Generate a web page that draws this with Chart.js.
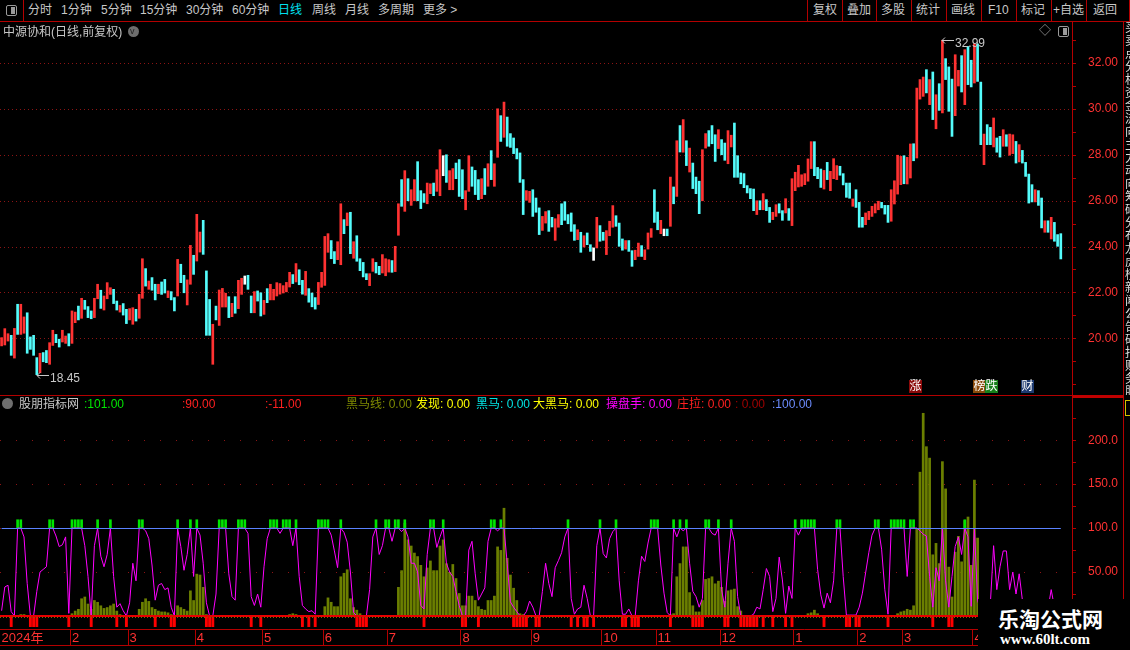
<!DOCTYPE html>
<html lang="zh-CN">
<head>
<meta charset="UTF-8">
<title>中源协和(日线,前复权)</title>
<script src="https://cdn.jsdelivr.net/npm/chart.js@4.4.1/dist/chart.umd.min.js"></script>
<style>
  body { margin: 0; background: #000; width: 1130px; height: 650px; overflow: hidden; position: relative;
         font-family: "Liberation Sans", "Noto Sans CJK SC", sans-serif; font-size: 12px; color: #c8c8c8; }
  .t { position: absolute; white-space: nowrap; line-height: 14px; }
  .hl { position: absolute; height: 1px; background: #b30000; }
  .vl { position: absolute; width: 1px; background: #b30000; }
  canvas { position: absolute; left: 0; }
  .tag { position: absolute; top: 380px; width: 13px; height: 13px; line-height: 13px; font-size: 12px; color: #fff; text-align: center; }
  .chev { position: absolute; width: 11px; height: 11px; border-radius: 6px; background: #6e6e6e; }
</style>
</head>
<body>
<!-- toolbar -->
<div class="vl" style="left:23px;top:0;height:21px"></div>
<div style="position:absolute;left:6px;top:5px;width:9px;height:9px;border:1px solid #9a9a9a;border-radius:2px"></div>
<div style="position:absolute;left:11px;top:7px;width:4px;height:7px;background:#9a9a9a"></div>
<div class="t" style="left:28px;top:3px">分时</div>
<div class="t" style="left:61px;top:3px">1分钟</div>
<div class="t" style="left:101px;top:3px">5分钟</div>
<div class="t" style="left:140px;top:3px">15分钟</div>
<div class="t" style="left:186px;top:3px">30分钟</div>
<div class="t" style="left:232px;top:3px">60分钟</div>
<div class="t" style="left:278px;top:3px;color:#00e0f0">日线</div>
<div class="t" style="left:312px;top:3px">周线</div>
<div class="t" style="left:345px;top:3px">月线</div>
<div class="t" style="left:378px;top:3px">多周期</div>
<div class="t" style="left:423px;top:3px">更多 &gt;</div>
<div class="t" style="left:813px;top:3px">复权</div>
<div class="t" style="left:847px;top:3px">叠加</div>
<div class="t" style="left:881px;top:3px">多股</div>
<div class="t" style="left:916px;top:3px">统计</div>
<div class="t" style="left:951px;top:3px">画线</div>
<div class="t" style="left:988px;top:3px">F10</div>
<div class="t" style="left:1021px;top:3px">标记</div>
<div class="t" style="left:1053px;top:3px">+自选</div>
<div class="t" style="left:1093px;top:3px">返回</div>
<div class="vl" style="left:807px;top:0;height:21px"></div>
<div class="vl" style="left:842px;top:0;height:21px"></div>
<div class="vl" style="left:876px;top:0;height:21px"></div>
<div class="vl" style="left:911px;top:0;height:21px"></div>
<div class="vl" style="left:946px;top:0;height:21px"></div>
<div class="vl" style="left:981px;top:0;height:21px"></div>
<div class="vl" style="left:1016px;top:0;height:21px"></div>
<div class="vl" style="left:1051px;top:0;height:21px"></div>
<div class="vl" style="left:1086px;top:0;height:21px"></div>
<div class="vl" style="left:1129px;top:0;height:21px"></div>
<div class="hl" style="left:0;top:21px;width:1130px"></div>

<canvas id="priceCv" width="1130" height="373" style="top:22px"></canvas>
<canvas id="indCv" width="1130" height="250" style="top:396px"></canvas>

<!-- title row -->
<div class="t" style="left:3px;top:25px">中源协和(日线,前复权)</div>
<div class="chev" style="left:128px;top:26px"></div>
<div class="t" style="left:130px;top:24px;font-size:9px;color:#222">v</div>
<div class="t" style="left:1039px;top:24px;color:#9a9a9a">◇</div>
<div style="position:absolute;left:1058px;top:26px;width:9px;height:9px;border:1px solid #9a9a9a;border-radius:2px"></div>
<div style="position:absolute;left:1063px;top:28px;width:4px;height:7px;background:#9a9a9a"></div>

<div class="tag" style="left:909px;background:#8c0a0a">涨</div>
<div class="tag" style="left:973px;background:#8a4a0a">榜</div>
<div class="tag" style="left:985px;background:#17801a">跌</div>
<div class="tag" style="left:1021px;background:#1d3a70">财</div>

<!-- frames -->
<div class="vl" style="left:1072px;top:21px;height:580px"></div>
<div class="vl" style="left:1123px;top:21px;height:629px"></div>
<div class="hl" style="left:0;top:395px;width:1072px"></div>
<div class="hl" style="left:1072px;top:395px;width:52px;height:3px;background:#c00000"></div>
<div class="hl" style="left:0;top:645px;width:978px"></div>
<div style="position:absolute;left:1125px;top:22px;width:5px;height:373px;overflow:hidden;color:#ddd;font-size:12px;line-height:13px">买<br>卖<br>点<br>分<br>析<br>资<br>金<br>流<br>向<br>主<br>力<br>动<br>向<br>筹<br>码<br>分<br>布<br>龙<br>虎<br>榜<br>新<br>闻<br>公<br>告<br>研<br>报<br>财<br>务<br>股<br>东<br>分</div>
<div style="position:absolute;left:1125px;top:400px;width:5px;height:14px;border:1px solid #d8c000;border-right:none"></div>

<!-- indicator legend -->
<div class="chev" style="left:2px;top:398px"></div>
<div class="t" style="left:19px;top:397px">股朋指标网</div>
<div class="t" style="left:84px;top:397px;color:#00e600">:101.00</div>
<div class="t" style="left:182px;top:397px;color:#ff2020">:90.00</div>
<div class="t" style="left:265px;top:397px;color:#ff2020">:-11.00</div>
<div class="t" style="left:346px;top:397px;color:#7f8a00">黑马线: 0.00</div>
<div class="t" style="left:416px;top:397px;color:#ffff00">发现: 0.00</div>
<div class="t" style="left:476px;top:397px;color:#00e5e5">黑马: 0.00</div>
<div class="t" style="left:533px;top:397px;color:#ffff00">大黑马: 0.00</div>
<div class="t" style="left:606px;top:397px;color:#ff00ff">操盘手: 0.00</div>
<div class="t" style="left:677px;top:397px;color:#ff2020">庄拉: 0.00</div>
<div class="t" style="left:735px;top:397px;color:#a00000">: 0.00</div>
<div class="t" style="left:772px;top:397px;color:#6d8dff">:100.00</div>

<!-- watermark -->
<div style="position:absolute;left:978px;top:599px;width:152px;height:51px;background:#000"></div>
<div class="t" style="left:998px;top:606px;line-height:24px;font-size:21px;font-weight:bold;color:#fff;font-family:'Noto Sans CJK SC',sans-serif">乐淘公式网</div>
<div class="t" style="left:1000px;top:631px;line-height:16px;font-size:15px;font-weight:bold;color:#fff;font-family:'Liberation Serif',serif">www.60lt.com</div>

<script>
// ---- price candles (each day: high, low, colour r=up c=down w=flat) ----
const candleHigh = [
  20.06,20.45,20.23,20.16,20.46,21.51,21.51,20.96,21.14,20.09,
  20.16,19.19,19.38,19.41,19.50,19.84,20.38,20.20,19.99,20.38,
  20.13,20.23,21.22,21.17,21.43,21.77,21.68,21.41,21.22,21.77,
  22.38,22.12,21.87,22.45,22.23,22.16,21.65,21.46,21.54,21.29,
  21.32,21.36,21.29,21.94,23.49,23.06,22.52,22.67,22.38,22.38,
  22.48,22.59,22.09,22.06,21.80,23.46,23.25,22.77,22.57,24.07,
  23.64,25.42,24.65,25.16,22.96,21.72,20.64,21.43,22.13,22.20,
  21.99,21.84,21.55,21.84,22.55,22.64,22.74,22.77,21.87,22.06,
  22.09,22.01,21.68,22.19,22.38,22.16,22.45,22.41,22.32,22.46,
  22.90,22.80,23.28,23.01,22.55,22.94,22.19,22.00,21.80,22.46,
  22.90,24.46,24.58,24.28,23.80,24.23,25.88,25.19,25.48,25.51,
  24.23,24.49,23.49,23.33,22.84,22.84,23.49,23.33,23.16,23.67,
  23.49,23.45,23.41,24.03,25.88,26.93,27.32,26.97,26.49,26.93,
  27.71,26.45,26.32,26.78,26.75,26.78,27.36,28.23,27.97,28.01,
  27.32,27.41,27.65,27.80,27.36,26.45,27.97,27.48,27.33,26.93,
  26.97,27.41,27.62,28.19,27.62,30.01,29.71,30.30,29.65,28.93,
  28.74,28.28,28.09,26.93,26.45,26.42,26.49,26.13,25.70,25.33,
  25.54,25.58,25.29,25.23,25.41,25.88,25.97,25.41,25.48,24.97,
  24.75,24.64,24.49,24.61,24.10,23.96,25.29,24.93,24.64,24.71,
  25.12,25.80,25.36,25.04,24.35,24.28,24.28,23.84,23.86,24.17,
  24.06,23.88,24.61,24.80,26.49,25.52,25.16,24.78,24.78,27.04,
  26.61,28.62,29.28,29.54,28.62,28.30,27.65,27.04,26.86,28.23,
  28.93,29.06,29.28,28.88,29.10,28.67,28.52,29.06,28.86,29.39,
  27.97,27.22,27.19,26.67,26.54,26.52,26.01,26.01,26.32,26.06,
  25.72,25.51,25.84,25.88,25.58,26.10,25.67,26.97,27.25,27.55,
  27.14,27.19,27.83,28.58,28.58,27.46,27.39,27.33,27.68,27.29,
  27.84,27.54,27.51,27.19,26.78,26.78,26.09,26.49,25.94,25.29,
  25.48,25.55,25.77,25.88,25.99,25.94,25.81,25.81,26.49,26.88,
  27.99,27.94,27.97,27.90,28.48,28.49,30.91,31.28,31.39,31.71,
  31.28,31.61,30.62,31.10,32.99,32.19,31.83,31.30,32.36,31.68,
  32.32,32.58,32.72,32.12,32.84,32.83,31.17,28.91,29.32,29.20,
  29.61,28.74,28.81,29.10,28.88,28.91,28.88,28.59,28.45,28.20,
  27.68,27.17,26.71,26.49,26.45,26.13,25.14,25.14,25.29,25.07,
  24.54,24.58
];
const candleLow = [
  19.70,19.74,19.91,19.29,19.17,20.20,20.20,20.25,19.38,19.55,
  19.29,18.45,18.53,19.01,18.97,18.90,19.72,19.84,19.65,19.87,
  19.81,19.70,19.81,20.71,20.83,20.90,21.29,20.93,20.88,20.93,
  21.75,21.33,21.26,21.75,21.94,21.54,21.26,21.17,21.04,20.67,
  20.83,20.64,20.78,20.90,21.77,22.30,22.16,22.12,21.70,21.97,
  21.94,22.00,21.80,21.70,21.22,21.87,22.45,22.01,21.48,22.38,
  22.81,23.39,23.78,23.68,20.16,20.16,18.90,20.83,20.59,21.39,
  21.39,20.93,20.97,21.12,21.32,21.94,22.38,22.16,21.14,21.14,
  21.65,21.00,21.07,21.58,21.70,21.70,21.87,21.95,22.00,22.05,
  22.26,22.41,22.48,22.36,21.95,21.90,21.60,21.40,21.30,21.50,
  22.25,22.33,23.77,23.49,23.28,23.45,23.23,24.58,24.93,23.71,
  23.51,23.38,22.97,22.70,22.58,22.32,22.94,22.87,22.80,22.87,
  22.75,22.91,22.90,22.93,24.51,25.77,25.55,26.01,25.81,26.01,
  26.01,25.67,25.94,25.88,26.32,26.23,26.42,26.23,27.10,26.81,
  26.49,26.49,26.97,26.20,26.10,25.62,26.42,26.64,26.28,26.06,
  26.10,26.28,26.64,26.93,26.64,27.90,28.59,28.77,28.38,28.33,
  28.06,27.83,26.81,25.41,26.03,25.94,25.33,25.51,24.54,24.72,
  25.04,24.68,24.87,24.29,24.86,24.97,25.16,25.01,24.68,24.29,
  24.32,23.77,24.00,24.10,23.81,23.42,23.96,24.25,24.29,23.67,
  24.49,24.86,24.90,24.03,23.86,23.91,23.81,23.16,23.45,23.59,
  23.59,23.45,23.91,24.42,25.07,24.75,24.58,24.49,24.49,24.90,
  25.88,26.20,28.13,28.12,27.54,27.26,26.54,26.32,25.45,26.01,
  28.30,28.38,28.49,27.72,28.28,28.01,27.77,27.62,28.35,27.03,
  27.03,26.75,26.58,26.35,26.10,25.58,25.41,25.62,25.62,25.58,
  25.07,25.19,25.33,25.48,25.16,25.48,25.16,24.93,26.45,26.61,
  26.64,26.71,26.86,27.41,27.10,26.97,26.59,26.52,26.93,26.45,
  26.97,26.93,27.12,26.70,26.16,26.12,25.77,25.72,24.86,24.86,
  24.97,25.19,25.33,25.48,25.62,25.70,25.43,25.07,25.12,25.87,
  26.30,26.71,26.75,26.74,27.00,27.75,27.87,30.43,30.55,30.70,
  30.19,29.54,29.14,29.94,29.83,31.28,29.90,28.81,29.71,31.00,
  30.74,30.19,31.06,30.96,31.13,31.20,28.45,27.58,28.45,28.45,
  28.35,28.12,27.91,28.38,28.38,27.99,28.06,27.65,27.70,27.65,
  27.07,25.91,25.96,25.96,25.81,24.83,24.64,24.64,24.35,24.25,
  24.03,23.48
];
const candleDir = (
  'rrrcrcrrcc' + 'ccrccrrccr' + 'rcrrcrcccr' + 'rcrrrccrcc' + 'rrcrrcrccr' +
  'ccrccrccrr' + 'crrcccrcrr' + 'rcrcrrwccr' + 'ccrcrrrrrr' + 'rcrccrcccr' +
  'rrrccrrcrc' + 'rccccrrccr' + 'rrcrrcrcrr' + 'cccrrcrrwc' + 'rrcccrrccc' +
  'rcrcrrcrcc' + 'ccccrrcccr' + 'rccrrccccc' + 'rcrccwrccr' + 'rrcccrccrr' +
  'crrrccrwcr' + 'crcrcrcccr' + 'rcccrccrrc' + 'ccccccrcrc' + 'crrccrcrrr' +
  'rrrrcccrcr' + 'rrccccrccc' + 'rrrrrcccrr' + 'rrcrrcrrrc' + 'rcrcrcccrr' +
  'crccrccrcc' + 'rccrcrrcrc' + 'cccrccrcrc' + 'cc').split('');

// ---- x axis: first trading day of each month ----
const monthStart = [1, 23, 41, 62, 83, 102, 122, 145, 167, 189, 206, 226, 249, 269, 283, 305];
const monthName = ['2024年', '2', '3', '4', '5', '6', '7', '8', '9', '10', '11', '12', '1', '2', '3', '4'];
const slotCount = 335;

// ---- y axis ticks ----
const priceTicks = [18, 19, 20, 21, 22, 23, 24, 25, 26, 27, 28, 29, 30, 31, 32, 33];
const indTicks = [25, 50, 75, 100, 125, 150, 175, 200, 225];

// ---- indicator ----
const oscLine = [
  6,33,35,5,0,100,100,90,37,0,
  0,28,50,53,56,100,100,91,79,81,
  90,3,100,100,100,100,80,45,0,80,
  100,68,56,70,100,45,10,14,6,0,
  15,60,40,100,100,97,88,58,18,35,
  37,30,32,10,0,100,79,52,70,100,
  45,100,92,60,15,0,0,25,100,100,
  100,48,22,18,100,100,100,94,22,12,
  25,10,56,88,100,100,100,94,100,100,
  100,80,100,45,12,8,5,6,2,100,
  100,100,100,92,74,55,100,95,84,50,
  4,0,0,0,0,30,90,100,70,80,
  100,100,85,100,100,96,100,90,60,60,
  50,12,8,70,100,100,78,90,100,60,
  50,45,28,12,0,0,75,85,48,18,
  25,32,85,100,100,97,100,100,60,16,
  10,5,0,0,5,17,10,0,0,28,
  60,37,22,55,63,72,90,100,20,2,
  8,10,35,20,0,0,80,100,71,66,
  88,96,100,40,2,2,8,0,0,40,
  68,62,83,100,100,100,58,26,4,0,
  100,90,100,97,100,60,28,22,10,20,
  100,100,94,92,100,30,10,60,100,85,
  22,0,0,0,0,2,10,8,30,54,
  45,5,20,67,41,3,34,20,100,92,
  100,100,100,100,100,53,24,9,26,15,
  40,100,100,45,1,1,1,1,10,26,
  49,72,92,100,100,76,30,2,100,100,
  100,100,100,45,100,100,100,97,93,91,
  45,10,55,40,100,40,10,45,79,90,
  70,100,90,11,100,18,5,5,5,15,
  80,30,56,74,74,30,50,25,48,18,
  10,5,3,3,3,3,5,8,30,10,
  5,3
];
const horseBars = [
  0,0,0,0,0,0,2,2,1,0,
  0,0,0,0,0,0,0,0,0,0,
  0,0,3,6,8,20,22,14,8,18,
  16,12,9,10,12,14,6,2,1,0,
  0,0,0,8,16,20,17,10,8,6,
  5,5,4,2,0,12,10,8,6,29,
  18,48,47,33,2,0,0,0,0,0,
  0,0,0,0,0,0,0,0,0,0,
  0,0,0,0,0,0,0,0,0,0,
  2,3,2,0,0,0,0,0,0,0,
  0,11,21,16,11,11,45,49,53,20,
  10,7,3,0,0,0,0,0,0,0,
  0,0,0,0,33,52,106,87,80,72,
  68,58,45,55,63,52,52,80,87,60,
  50,59,43,26,12,12,23,23,18,11,
  8,7,18,18,23,79,75,123,66,47,
  32,18,3,2,0,0,0,0,0,0,
  0,0,0,0,0,0,0,0,0,0,
  0,0,0,0,0,0,0,0,0,0,
  0,0,0,0,0,0,0,0,0,0,
  0,0,0,0,0,0,0,0,0,2,
  3,45,60,79,79,27,12,5,5,18,
  42,43,45,37,40,33,17,29,30,31,
  11,6,0,0,0,0,0,0,0,0,
  0,0,0,0,0,0,0,0,0,0,
  0,0,3,4,7,3,0,0,0,0,
  0,0,0,0,0,0,0,0,0,0,
  0,0,0,0,0,0,0,0,0,0,
  3,5,6,8,7,12,100,164,231,193,
  180,70,83,60,176,145,56,22,73,91,
  62,109,113,58,155,89,0,0,0,0,
  0,0,0,0,0,0,0,0,0,0,
  0,0,0,0,0,0,0,0,0,0,
  0,0
];
const greenDays = [6, 7, 16, 17, 23, 24, 25, 26, 31, 35, 44, 45, 56, 60, 62, 69, 70, 71, 75, 76, 77,
  85, 86, 87, 89, 90, 91, 93, 100, 101, 102, 103, 107, 118, 121, 122, 124, 125, 127, 135, 136, 139,
  154, 155, 157, 178, 188, 193, 204, 205, 206, 211, 213, 215, 221, 222, 225, 229, 249, 251, 252, 253,
  254, 255, 262, 263, 274, 275, 279, 280, 281, 282, 283, 285, 286, 302];
const redDays = [4, 10, 11, 12, 22, 29, 37, 40, 49, 54, 55, 65, 66, 67, 79, 82, 95, 97, 99, 112, 113,
  114, 115, 133, 145, 146, 150, 161, 162, 163, 164, 165, 168, 169, 179, 181, 183, 184, 186, 195, 196,
  198, 199, 200, 210, 217, 218, 219, 220, 227, 228, 232, 233, 234, 235, 236, 237, 239, 242, 246, 248,
  258, 265, 266, 268, 269, 278, 292, 297, 298];
const baseLevel = 100;

// ---- build ----
const RED = '#ff3232', CYAN = '#54fcfc', FRAME = '#b30000', DOT = '#8c1414';
const FONT = '"Liberation Sans", "Noto Sans CJK SC", sans-serif';
const axisLabels = Array.from({ length: slotCount }, (_, i) => {
  const k = monthStart.indexOf(i + 1);
  return k >= 0 ? monthName[k] : '';
});
const dirColor = { r: RED, c: CYAN, w: '#ffffff' };
const candleRange = candleLow.map((l, i) => [l, candleHigh[i]]);
const candleColors = candleDir.map(d => dirColor[d]);
const markUp = [100, 109.5], markDown = [-1, -12.5];
const greenData = oscLine.map((_, i) => greenDays.includes(i + 1) ? markUp : null);
const redData = oscLine.map((_, i) => redDays.includes(i + 1) ? markDown : null);
const horseData = horseBars.map(v => v || null);

const extremeLabels = {
  id: 'extremeLabels',
  afterDatasetsDraw(chart) {
    const { ctx, scales: { x, y } } = chart;
    const hi = candleHigh.indexOf(Math.max(...candleHigh));
    const lo = candleLow.indexOf(Math.min(...candleLow));
    [[hi, candleHigh[hi]], [lo, candleLow[lo]]].forEach(([i, v]) => {
      const px = Math.round(x.getPixelForValue(i)), py = Math.round(y.getPixelForValue(v)) + 0.5;
      ctx.save();
      ctx.strokeStyle = '#c8c8c8';
      ctx.lineWidth = 1;
      ctx.beginPath();
      ctx.moveTo(px + 12, py); ctx.lineTo(px, py);
      ctx.moveTo(px + 3, py - 3); ctx.lineTo(px, py); ctx.lineTo(px + 3, py + 3);
      ctx.stroke();
      ctx.fillStyle = '#c8c8c8';
      ctx.font = '12px ' + FONT;
      ctx.textBaseline = 'middle';
      ctx.fillText(v.toFixed(2), px + 13, py + 3);
      ctx.restore();
    });
  }
};

const levelLines = {
  id: 'levelLines',
  afterDatasetsDraw(chart) {
    const { ctx, chartArea: a, scales: { x, y } } = chart;
    ctx.save();
    const yb = Math.round(y.getPixelForValue(baseLevel)) + 0.5;
    ctx.strokeStyle = '#5a82ff';
    ctx.lineWidth = 1;
    ctx.beginPath();
    ctx.moveTo(x.getPixelForValue(0), yb);
    ctx.lineTo(x.getPixelForValue(oscLine.length - 1), yb);
    ctx.stroke();
    const y0 = Math.round(y.getPixelForValue(0));
    ctx.fillStyle = '#e80000';
    ctx.fillRect(a.left, y0 - 1, a.right - a.left, 2);
    ctx.strokeStyle = '#7a6a00';
    ctx.setLineDash([1, 2]);
    ctx.beginPath();
    ctx.moveTo(a.left, y0 + 1.5);
    ctx.lineTo(a.right, y0 + 1.5);
    ctx.stroke();
    ctx.restore();
  }
};

Chart.defaults.font.family = FONT;

new Chart(document.getElementById('priceCv'), {
  type: 'bar',
  data: {
    labels: axisLabels,
    datasets: [{ data: candleRange, backgroundColor: candleColors, barThickness: 2 }]
  },
  options: {
    animation: false, responsive: false, devicePixelRatio: 1,
    layout: { padding: 0 },
    plugins: { legend: { display: false }, tooltip: { enabled: false } },
    scales: {
      x: { display: false },
      y: {
        position: 'right', min: 17.565, max: 33.783,
        afterBuildTicks(s) { s.ticks = priceTicks.map(v => ({ value: v })); },
        afterFit(s) { s.width = 58; s.paddingTop = 0; s.paddingBottom = 0; },
        border: { display: true, color: FRAME, dash: [1, 3] },
        grid: {
          color: c => (c.tick && c.tick.value % 2 === 0 && c.tick.value >= 20) ? DOT : 'rgba(0,0,0,0)',
          tickColor: FRAME, tickLength: 4, tickBorderDash: []
        },
        ticks: {
          color: RED, padding: 12, font: { size: 12 },
          callback: v => (v % 2 === 0 && v >= 20) ? v.toFixed(2) : ''
        }
      }
    }
  },
  plugins: [extremeLabels]
});

new Chart(document.getElementById('indCv'), {
  type: 'bar',
  data: {
    labels: axisLabels,
    datasets: [
      { type: 'line', data: oscLine, borderColor: '#ff00ff', borderWidth: 1, pointRadius: 0, tension: 0, order: 1 },
      { data: greenData, backgroundColor: '#00e600', barThickness: 2, grouped: false, order: 2 },
      { data: redData, backgroundColor: '#ff0000', barPercentage: 0.9, categoryPercentage: 1, grouped: false, order: 3 },
      { data: horseData, backgroundColor: '#6b7f00', barPercentage: 0.85, categoryPercentage: 1, grouped: false, order: 4 }
    ]
  },
  options: {
    animation: false, responsive: false, devicePixelRatio: 1,
    layout: { padding: 0 },
    plugins: { legend: { display: false }, tooltip: { enabled: false } },
    scales: {
      x: {
        position: 'bottom',
        afterFit(s) { s.height = 17; s.paddingLeft = 0; s.paddingRight = 0; },
        border: { display: true, color: FRAME },
        grid: {
          drawOnChartArea: false, tickLength: 16,
          color: c => (c.tick && c.tick.label) ? FRAME : 'rgba(0,0,0,0)'
        },
        ticks: {
          autoSkip: false, maxRotation: 0, minRotation: 0, align: 'start', padding: -14,
          color: RED, font: { size: 13 }
        }
      },
      y: {
        position: 'right', min: -14.8, max: 250.3,
        afterBuildTicks(s) { s.ticks = indTicks.map(v => ({ value: v })); },
        afterFit(s) { s.width = 58; s.paddingTop = 0; s.paddingBottom = 0; },
        border: { display: true, color: FRAME, dash: [1, 15] },
        grid: {
          color: c => (c.tick && c.tick.value % 50 === 0) ? DOT : 'rgba(0,0,0,0)',
          tickColor: FRAME, tickLength: 4, tickBorderDash: []
        },
        ticks: {
          color: RED, padding: 12, font: { size: 12 },
          callback: v => v % 50 === 0 ? (v >= 100 ? v.toFixed(1) : v.toFixed(2)) : ''
        }
      }
    }
  },
  plugins: [levelLines]
});
</script>
</body>
</html>
